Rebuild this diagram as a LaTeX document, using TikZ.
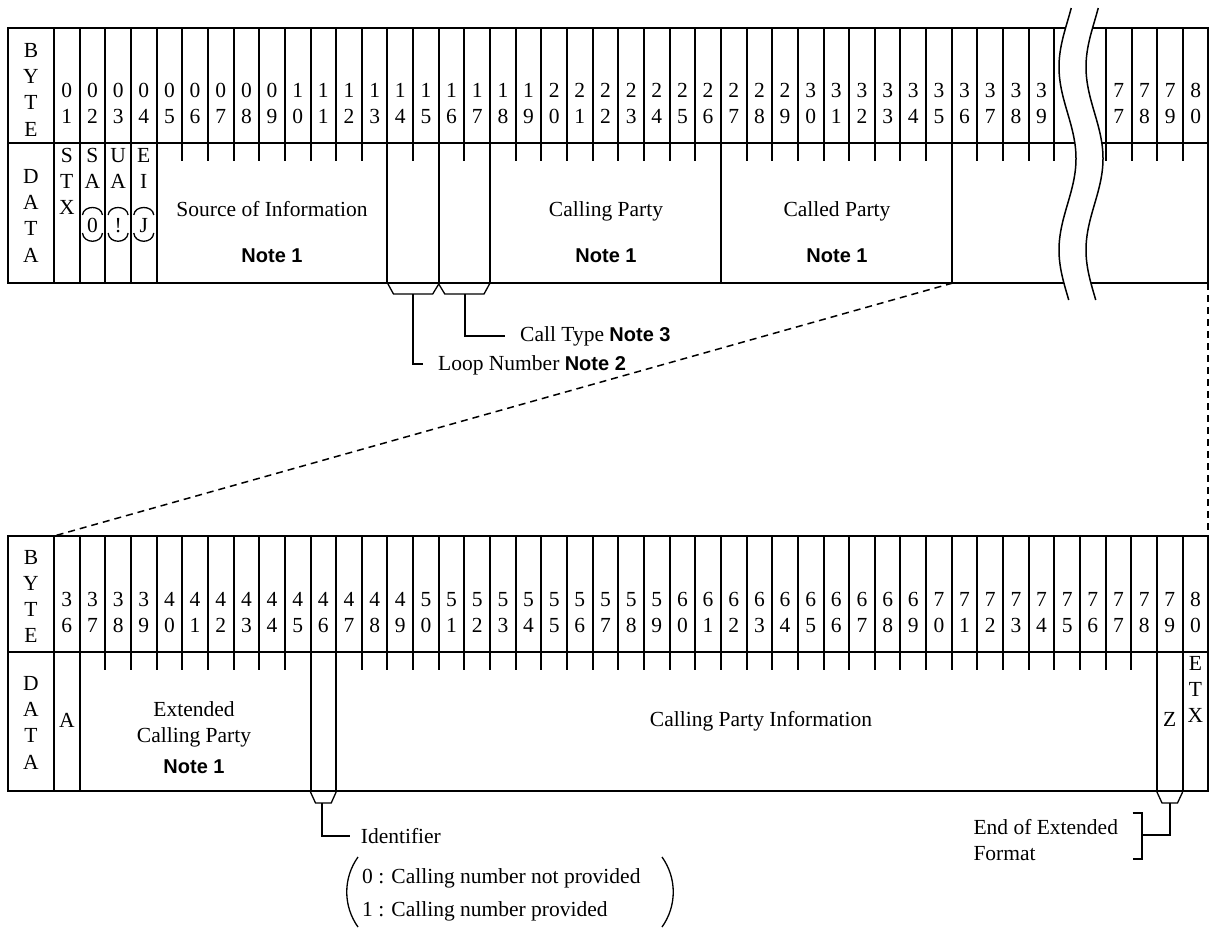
\documentclass[tikz,border=0pt]{standalone}
\usepackage{fontspec}
\setmainfont{Liberation Serif}
\newfontfamily\sansbf{Liberation Sans}
\newcommand\NoteTxt[1]{{\sansbf\bfseries\fontsize{20}{24}\selectfont #1}}
\begin{document}
\begin{tikzpicture}[x=1pt,y=-1pt,
  font=\fontsize{21.5}{26}\selectfont,
  tl/.style={line width=2pt},
  thn/.style={line width=1.3pt},
  wav/.style={line width=1.5pt},
  dsh/.style={line width=1.5pt, dash pattern=on 7pt off 5pt},
  tx/.style={inner sep=0pt, anchor=base},
  txw/.style={inner sep=0pt, anchor=base west}]
\useasboundingbox (0,0) rectangle (1210,927);
\def\w{25.65}

% ---------------- top table ----------------
\draw[tl] (8,28) rectangle (1208,283);
\draw[tl] (8,143) -- (1208,143);
\foreach \k in {0,...,39} \draw[tl] ({54+\k*\w},28) -- ({54+\k*\w},143);
\foreach \k in {0,...,3} \draw[tl] ({1106+\k*\w},28) -- ({1106+\k*\w},161);
\foreach \k in {0,1,2,3,4,13,15,17,26,35} \draw[tl] ({54+\k*\w},143) -- ({54+\k*\w},283);
\foreach \k in {5,6,7,8,9,10,11,12,14,16,18,19,20,21,22,23,24,25,27,28,29,30,31,32,33,34,36,37,38,39}
  \draw[tl] ({54+\k*\w},143) -- ({54+\k*\w},161);

% break
\fill[white] plot[domain=8:300,samples=60,smooth] ({1067.5-8.5*cos(1.96721*(\x-67))},\x)
  -- plot[domain=300:8,samples=60,smooth] ({1094.5-8.5*cos(1.96721*(\x-67))},\x) -- cycle;
\draw[wav] plot[domain=8:300,samples=60,smooth] ({1067.5-8.5*cos(1.96721*(\x-67))},\x);
\draw[wav] plot[domain=8:300,samples=60,smooth] ({1094.5-8.5*cos(1.96721*(\x-67))},\x);

% header labels
\foreach \c/\l [count=\i] in {57/B,83.3/Y,109.6/T,136/E} \node[tx] (tb\i) at (31,\c) {\l};
\foreach \c/\l [count=\i] in {183/D,209.3/A,235.6/T,262/A} \node[tx] (td\i) at (31,\c) {\l};
\foreach \n in {1,...,39}{
  \pgfmathtruncatemacro\tn{\n/10}
  \pgfmathtruncatemacro\on{\n-10*\tn}
  \node[tx] (ta\n) at ({54+(\n-0.5)*\w},97) {\tn};
  \node[tx] (tz\n) at ({54+(\n-0.5)*\w},123.3) {\on};
}
\foreach \n in {77,...,80}{
  \pgfmathtruncatemacro\tn{\n/10}
  \pgfmathtruncatemacro\on{\n-10*\tn}
  \node[tx] (ta\n) at ({1106+(\n-76.5)*\w},97) {\tn};
  \node[tx] (tz\n) at ({1106+(\n-76.5)*\w},123.3) {\on};
}

% data row
\foreach \c/\l [count=\i] in {162.7/S,188.7/T,214.7/X} \node[tx] (stx\i) at (66.8,\c) {\l};
\foreach \k/\p/\q/\r in {2/S/A/0,3/U/A/!,4/E/I/J}{
  \pgfmathsetmacro\cx{54+(\k-0.5)*\w}
  \node[tx] (da\k) at (\cx,162.7) {\p};
  \node[tx] (db\k) at (\cx,188.7) {\q};
  \node[tx] (dc\k) at (\cx,232.7) {\r};
  \draw[thn] ({\cx-10},215) .. controls ({\cx-9},205) and ({\cx+9},205) .. ({\cx+10},215);
  \draw[thn] ({\cx-10},233) .. controls ({\cx-9},244) and ({\cx+9},244) .. ({\cx+10},233);
}
\node[tx] (soi) at (272,216) {Source of Information};
\node[tx] (soin) at (272,262) {\NoteTxt{Note 1}};
\node[tx] (cgp) at (606,216) {Calling Party};
\node[tx] (cgpn) at (606,262) {\NoteTxt{Note 1}};
\node[tx] (cdp) at (837,216) {Called Party};
\node[tx] (cdpn) at (837,262) {\NoteTxt{Note 1}};

% braces and notes (top)
\draw[thn] (387.45,283) -- (393.5,294) -- (432.7,294) -- (438.75,284) -- (444.8,294) -- (484,294) -- (490.05,283);
\coordinate (s1) at (413.1,294);
\coordinate (e1) at (423,364);
\draw[tl] (s1) |- (e1);
\node[txw] (loop) at (438,370) {Loop Number \NoteTxt{Note 2}};
\coordinate (s2) at (465,294);
\coordinate (e2) at (505,336);
\draw[tl] (s2) |- (e2);
\node[txw] (ctype) at (520,341.7) {Call Type \NoteTxt{Note 3}};

% zoom lines
\coordinate (z1) at (952.8,283);
\coordinate (z2) at (54,536);
\coordinate (z3) at (1208,283);
\coordinate (z4) at (1208,536);
\draw[dsh] (z1) -- (z2);
\draw[dsh] (z3) -- (z4);

% ---------------- bottom table ----------------
\draw[tl] (8,536) rectangle (1208,791);
\draw[tl] (8,652) -- (1208,652);
\foreach \k in {0,...,44} \draw[tl] ({54+\k*\w},536) -- ({54+\k*\w},652);
\foreach \k in {0,1,10,11,43,44} \draw[tl] ({54+\k*\w},652) -- ({54+\k*\w},791);
\foreach \k in {2,...,9} \draw[tl] ({54+\k*\w},652) -- ({54+\k*\w},670);
\foreach \k in {12,...,42} \draw[tl] ({54+\k*\w},652) -- ({54+\k*\w},670);

\foreach \c/\l [count=\i] in {564/B,590/Y,616.7/T,642.7/E} \node[tx] (bb\i) at (31,\c) {\l};
\foreach \c/\l [count=\i] in {690.7/D,716.7/A,742.7/T,769.3/A} \node[tx] (bd\i) at (31,\c) {\l};
\foreach \n in {36,...,80}{
  \pgfmathtruncatemacro\tn{\n/10}
  \pgfmathtruncatemacro\on{\n-10*\tn}
  \node[tx] (ba\n) at ({54+(\n-35.5)*\w},606) {\tn};
  \node[tx] (bz\n) at ({54+(\n-35.5)*\w},632.7) {\on};
}
\node[tx] (ba) at (66.8,727.3) {A};
\node[tx] (ext1) at (194,716.7) {Extended};
\node[tx] (ext2) at (194,742.3) {Calling Party};
\node[tx] (ext3) at (194,773.3) {\NoteTxt{Note 1}};
\node[tx] (cpi) at (761,726) {Calling Party Information};
\node[tx] (bzz) at (1169.8,726) {Z};
\foreach \c/\l [count=\i] in {670.7/E,696.7/T,722.7/X} \node[tx] (etx\i) at (1195.4,\c) {\l};

% braces and notes (bottom)
\draw[thn] (310.5,792) -- (315.5,803) -- (331.2,803) -- (336.15,792);
\coordinate (s3) at (322.3,803);
\coordinate (e3) at (350,835.7);
\draw[tl] (s3) |- (e3);
\node[txw] (ident) at (360.7,843.3) {Identifier};
\node[txw] (opt0) at (362,883.3) {0 : Calling number not provided};
\node[txw] (opt1) at (362,916.7) {1 : Calling number provided};
\draw[thn] (358,857) .. controls (343,878) and (343,906) .. (358,927);
\draw[thn] (662,857) .. controls (677,878) and (677,906) .. (662,927);

\draw[thn] (1156.95,792) -- (1162,803) -- (1177.5,803) -- (1182.6,792);
\coordinate (s4) at (1170,803);
\coordinate (e4) at (1141.7,835);
\draw[tl] (s4) |- (e4);
\draw[tl] (1132.7,813.3) -- (1141.7,813.3) -- (1141.7,859) -- (1132.7,859);
\node[txw] (eoe1) at (973.3,834.3) {End of Extended};
\node[txw] (eoe2) at (973.3,860.7) {Format};
\end{tikzpicture}
\end{document}
